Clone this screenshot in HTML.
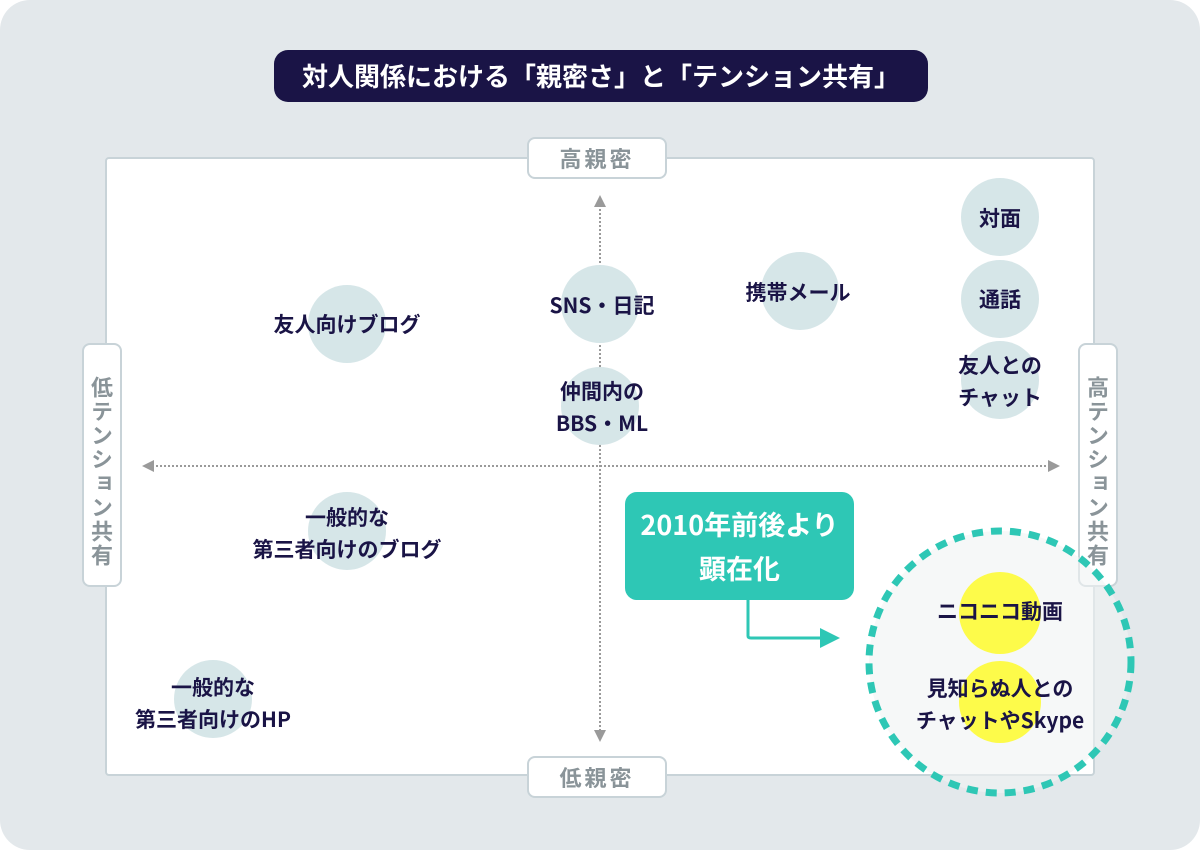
<!DOCTYPE html>
<html><head><meta charset="utf-8"><style>
*{margin:0;padding:0;box-sizing:border-box}
body{width:1200px;height:850px;background:#fff;position:relative;overflow:hidden;font-family:"Noto Sans CJK JP","Liberation Sans",sans-serif}
.bg{position:absolute;left:0;top:0;width:1200px;height:850px;background:#e3e8eb;border-radius:30px}
.title{position:absolute;left:274px;top:50px;width:654px;height:52px;background:#1a1446;border-radius:14px;color:#fff;font-weight:bold;font-size:26px;text-align:center;line-height:52px}
.panel{position:absolute;left:105px;top:157px;width:990px;height:619px;background:#fff;border:2px solid #c8d3d8;border-radius:4px}
.ax{position:absolute;background:#fff;border:2px solid #c8d3d8;border-radius:8px;color:#8a9499;font-weight:bold;font-size:22px;text-align:center}
.h{width:140px;height:42px;line-height:38px;letter-spacing:3px}
.v{width:40px;height:244px;writing-mode:vertical-rl;line-height:36px;padding-top:14px;letter-spacing:2px}
.c{position:absolute;width:78px;height:78px;border-radius:50%;background:#d6e6e8}
.y{background:#fdfb4a;width:82px;height:82px}
.t{position:absolute;color:#1a1446;font-weight:bold;font-size:21px;text-align:center;line-height:32px;white-space:nowrap;transform:translate(-50%,-50%)}
.box{position:absolute;left:625px;top:492px;width:229px;height:108px;background:#2ec7b5;border-radius:12px;color:#fff;font-weight:bold;font-size:27px;text-align:center;line-height:44px;padding-top:10px}
</style></head><body>
<div class="bg"></div>
<div class="title">対人関係における「親密さ」と「テンション共有」</div>
<div class="panel"></div>
<svg style="position:absolute;left:0;top:0" width="1200" height="850">
<line x1="600" y1="205" x2="600" y2="732" stroke="#9a9a9a" stroke-width="2" stroke-dasharray="2 2"/>
<polygon points="600,195 594,207 606,207" fill="#9a9a9a"/>
<polygon points="600,742 594,730 606,730" fill="#9a9a9a"/>
<line x1="152" y1="466" x2="1050" y2="466" stroke="#9a9a9a" stroke-width="2" stroke-dasharray="2 2"/>
<polygon points="142,466 154,460 154,472" fill="#9a9a9a"/>
<polygon points="1060,466 1048,460 1048,472" fill="#9a9a9a"/>
</svg>
<div class="ax h" style="left:527px;top:137px">高親密</div>
<div class="ax h" style="left:527px;top:756px">低親密</div>
<div class="ax v" style="left:82px;top:343px">低テンション共有</div>
<div class="ax v" style="left:1078px;top:343px">高テンション共有</div>
<div class="c" style="left:308px;top:285px"></div>
<div class="c" style="left:561px;top:265px"></div>
<div class="c" style="left:761px;top:252px"></div>
<div class="c" style="left:961px;top:178px"></div>
<div class="c" style="left:961px;top:260px"></div>
<div class="c" style="left:961px;top:341px"></div>
<div class="c" style="left:561px;top:367px"></div>
<div class="c" style="left:308px;top:492px"></div>
<div class="c" style="left:174px;top:660px"></div>
<div class="t" style="left:347px;top:324px">友人向けブログ</div>
<div class="t" style="left:602px;top:305px">SNS・日記</div>
<div class="t" style="left:798px;top:292px">携帯メール</div>
<div class="t" style="left:1000px;top:218px">対面</div>
<div class="t" style="left:1000px;top:299px">通話</div>
<div class="t" style="left:1000px;top:381px">友人との<br>チャット</div>
<div class="t" style="left:602px;top:407px">仲間内の<br>BBS・ML</div>
<div class="t" style="left:347px;top:533px">一般的な<br>第三者向けのブログ</div>
<div class="t" style="left:213px;top:703px">一般的な<br>第三者向けのHP</div>
<div class="box">2010年前後より<br>顕在化</div>
<svg style="position:absolute;left:0;top:0" width="1200" height="850">
<circle cx="1000" cy="662" r="131" fill="rgba(240,243,244,0.6)"/>
<circle cx="1000" cy="662" r="131" fill="none" stroke="#2ec7b5" stroke-width="7" stroke-dasharray="11 8"/>
<path d="M748 600 V636 Q748 638 751 638 H822" fill="none" stroke="#2ec7b5" stroke-width="3"/>
<polygon points="840,638 820,628 820,648" fill="#2ec7b5"/>
</svg>
<div class="c y" style="left:959px;top:572px"></div>
<div class="c y" style="left:959px;top:661px"></div>
<div class="t" style="left:1000px;top:611px">ニコニコ動画</div>
<div class="t" style="left:1000px;top:704px">見知らぬ人との<br>チャットやSkype</div>
</body></html>
